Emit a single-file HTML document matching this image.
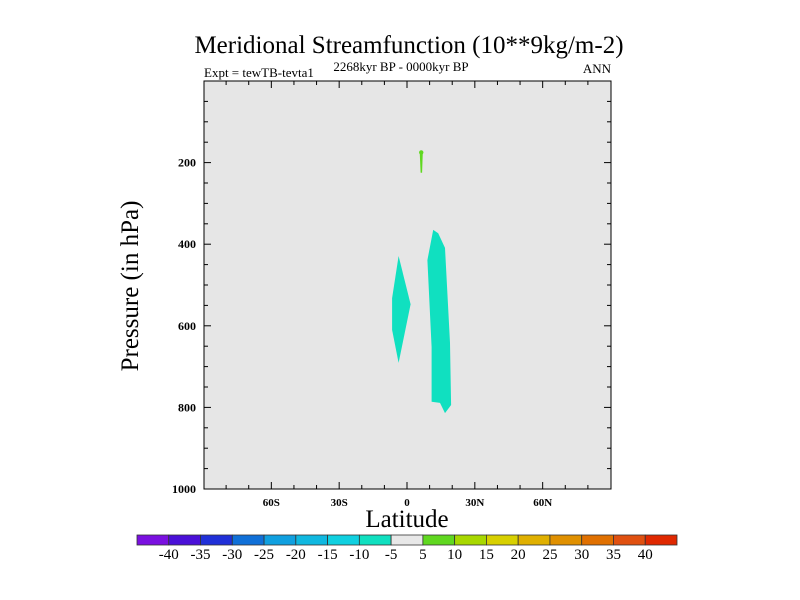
<!DOCTYPE html>
<html><head><meta charset="utf-8"><style>
body{margin:0;background:#fff}
svg{display:block}
text{font-family:"Liberation Serif",serif}
</style></head><body>
<svg id="c" width="800" height="600" xmlns="http://www.w3.org/2000/svg">
<text x="409" y="53" font-size="25" text-anchor="middle">Meridional Streamfunction (10**9kg/m-2)</text>
<text x="204" y="77" font-size="13">Expt = tewTB-tevta1</text>
<text x="401" y="71" font-size="13" text-anchor="middle">2268kyr BP - 0000kyr BP</text>
<text x="611" y="73" font-size="13" text-anchor="end">ANN</text>
<rect x="204" y="81" width="407" height="408" fill="#e6e6e6"/>
<g id="shapes"></g>
<rect x="204" y="81" width="407" height="408" fill="none" stroke="#000" stroke-width="1"/>
<g id="axes"></g>
<text x="407" y="527" font-size="25" text-anchor="middle">Latitude</text>
<text transform="translate(138,286) rotate(-90)" font-size="25" text-anchor="middle">Pressure (in hPa)</text>
<g id="cbar"></g>
</svg>
<script>
const latTicks=[-60,-30,0,30,60];
const latLabels=["60S","30S","0","30N","60N"];
const presTicks=[200,400,600,800,1000];
const levelLabels=[-40,-35,-30,-25,-20,-15,-10,-5,5,10,15,20,25,30,35,40];
const levelColors=["#7a10e0","#4a10d8","#2030d8","#1070d8","#10a0e0","#10b8e0","#10d0e0","#10e0c0","#e8e8e8","#60d820","#a8d800","#d8d000","#e0b000","#e09000","#e07000","#e05010","#e02800"];
const shapeLeft=[[-3.7,429],[1.6,547],[-3.7,691],[-6.6,610],[-6.6,532]];
const shapeRight=[[11.6,365],[13.8,373],[16.8,409],[19.0,642],[19.5,794],[16.8,814],[14.6,789],[10.9,786],[10.9,652],[9.0,439]];
const shapeGreen=[[5.6,174],[7.0,174],[6.7,225],[6.0,225]];
const X=l=>407+l*(203.5/90);
const Y=p=>81+p*0.408;
const NS="http://www.w3.org/2000/svg";
function mk(t,a,p){const e=document.createElementNS(NS,t);for(const k in a)e.setAttribute(k,a[k]);p.appendChild(e);return e;}
const sh=document.getElementById('shapes');
function poly(pts,fill,name){const e=mk('polygon',{points:pts.map(q=>X(q[0]).toFixed(1)+','+Y(q[1]).toFixed(1)).join(' '),fill:fill},sh);

}
poly(shapeLeft,"#10e0c0","contour-neg-left");
poly(shapeRight,"#10e0c0","contour-neg-right");
poly(shapeGreen,"#60d820","contour-pos-upper");
const dot=mk('circle',{cx:X(6.3),cy:Y(175),r:2.2,fill:"#60d820"},sh);


const ax=document.getElementById('axes');
for(let l=-80;l<=80;l+=10){const major=l%30===0;const len=major?7:4;
 const x=X(l);
 const a=mk('line',{x1:x,x2:x,y1:489,y2:489-len,stroke:'#000'},ax);
 
 
 const b=mk('line',{x1:x,x2:x,y1:81,y2:81+len,stroke:'#000'},ax);
 
 }
latTicks.forEach((l,i)=>{const t=mk('text',{x:X(l),y:506,'font-size':11,'font-weight':'bold','text-anchor':'middle'},ax);t.textContent=latLabels[i];
 
 });
for(let p=50;p<=1000;p+=50){const major=p%200===0;const len=major?7:4;const y=Y(p);
 const a=mk('line',{x1:204,x2:204+len,y1:y,y2:y,stroke:'#000'},ax);
 
 
 const b=mk('line',{x1:611,x2:611-len,y1:y,y2:y,stroke:'#000'},ax);
 
 }
presTicks.forEach(p=>{const t=mk('text',{x:196,y:Y(p)+4,'font-size':12,'font-weight':'bold','text-anchor':'end','font-family':'Liberation Sans, sans-serif'},ax);t.textContent=p;
 
 });
const cb=document.getElementById('cbar');
const x0=137,w=540/levelColors.length;
levelColors.forEach((c,i)=>{const r=mk('rect',{x:x0+i*w,y:535,width:w,height:10,fill:c,stroke:'#333','stroke-width':0.8},cb);
 
 });
levelLabels.forEach((v,i)=>{const t=mk('text',{x:x0+(i+1)*w,y:559,'font-size':15,'text-anchor':'middle'},cb);t.textContent=v;
 
 });
</script>
</body></html>
